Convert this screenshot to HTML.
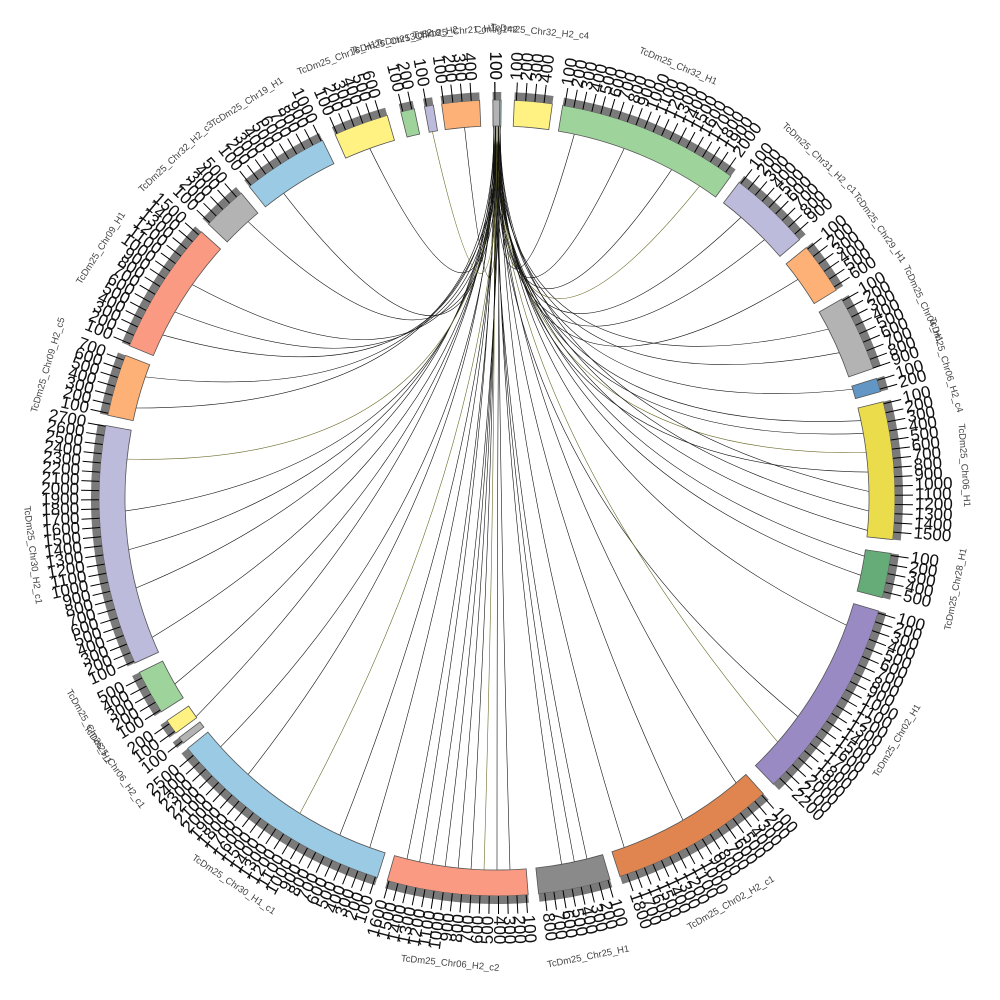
<!DOCTYPE html>
<html><head><meta charset="utf-8"><style>
html,body{margin:0;padding:0;background:#fff;width:1000px;height:1000px;overflow:hidden}
svg{display:block}
text{font-family:"Liberation Sans",sans-serif}
</style></head><body>
<svg id="s" width="1000" height="1000" xmlns="http://www.w3.org/2000/svg"></svg>
<script>
var S=document.getElementById('s'),NS='http://www.w3.org/2000/svg';
var cx=497,cy=498,r1=372,r2=398;
function P(a,r){var t=a*Math.PI/180;return [cx+r*Math.sin(t),cy-r*Math.cos(t)];}
function el(n,at,txt){var e=document.createElementNS(NS,n);for(var k in at)e.setAttribute(k,at[k]);if(txt!=null)e.textContent=txt;S.appendChild(e);return e;}
function arc(a1,a2,ri,ro){var p1=P(a1,ro),p2=P(a2,ro),p3=P(a2,ri),p4=P(a1,ri),l=(a2-a1)>180?1:0;
return 'M'+p1+' A'+ro+','+ro+' 0 '+l+' 1 '+p2+' L'+p3+' A'+ri+','+ri+' 0 '+l+' 0 '+p4+'Z';}
var segs=[
[-0.6,0.6,'#a9c4c4',''],
[2.5,8,'#fff282','TcDm25_Chr32_H2_c4'],
[9.5,36,'#9ed39b','TcDm25_Chr32_H1'],
[37.5,49.5,'#bcbbdc','TcDm25_Chr31_H2_c1'],
[51,58.5,'#fdb176','TcDm25_Chr29_H1'],
[60,71,'#b3b3b3','TcDm25_Chr04_H1'],
[72.5,74.5,'#6296c5','TcDm25_Chr06_H2_c4'],
[76,96,'#ebdc4c','TcDm25_Chr06_H1'],
[98,104.5,'#66ac78','TcDm25_Chr28_H1'],
[106.5,136,'#9a8ac4','TcDm25_Chr02_H1'],
[138,162,'#e0854f','TcDm25_Chr02_H2_c1'],
[163.5,174,'#8a8a8a','TcDm25_Chr25_H1'],
[175.5,196,'#fb9a83','TcDm25_Chr06_H2_c2'],
[197.5,231,'#9bcbe4','TcDm25_Chr30_H1_c1'],
[232,233,'#b3b3b3',''],
[233.8,236,'#fff282','TcDm25_Chr06_H2_c1'],
[237.5,244,'#9ed39b','TcDm25_Chr26_H1'],
[245.5,280.5,'#bcbbdc','TcDm25_Chr30_H2_c1'],
[282,291,'#fdb176','TcDm25_Chr09_H2_c5'],
[292.5,312,'#fb9a83','TcDm25_Chr09_H1'],
[313.5,320,'#b3b3b3','TcDm25_Chr32_H2_c3'],
[321.5,334,'#9bcbe4','TcDm25_Chr19_H1'],
[336,344,'#fff282','TcDm25_Chr16_H1'],
[346,348,'#9ed39b','TcDm25_Chr13_H2'],
[349.5,350.8,'#bcbbdc','TcDm25_Chr18_H2'],
[352,357.5,'#fdb176','TcDm25_Chr21_H1'],
[359.4,360.4,'#b3b3b3','Contig142']
];
var g=el('g',{fill:'none',stroke:'#111','stroke-width':'0.6'});
var targets=[12,20,28,33,41,46,54,63,67,73,78,80,83,86,89,92,95,99,102,110,126,131,140,150,160,166,168,170,178,180,182,184,186,188,190,192,194,200,205,212,222,228,234,240,248,256,262,268,276,284,289,296,300,305,318,325,340,350,355];
targets.forEach(function(t,i){var s=(i%5)*0.25-0.5;var a=P(s,r1),b=P(t,r1);
var c=[cx, cy-90+(i%7)*10];
var p=document.createElementNS(NS,'path');
p.setAttribute('d','M'+a+' Q'+c+' '+b);
if(i%9==3)p.setAttribute('stroke','#6a6a2a');
g.appendChild(p);});
segs.forEach(function(s){
var a1=s[0],a2=s[1];
el('path',{d:arc(a1,a2,r1,r2),fill:s[2],stroke:'#555','stroke-width':'0.8'});
el('path',{d:arc(a1,a2,r2,r2+8),fill:'#7a7a7a',stroke:'none'});
var n=0;
for(var a=a1+0.3;a<=a2;a+=1.33){n++;
var p1=P(a,r2),p2=P(a,r2+18);el('line',{x1:p1[0],y1:p1[1],x2:p2[0],y2:p2[1],stroke:'#000','stroke-width':'1'});
var q=P(a,r2+20),aa=((a%360)+360)%360,rot,anc;
if(aa>0&&aa<180){rot=aa-90;anc='start';}else{rot=aa+90;anc='end';}
el('text',{x:q[0],y:q[1],'font-size':'17','text-anchor':anc,'dominant-baseline':'middle',transform:'rotate('+rot+' '+q[0]+' '+q[1]+')',fill:'#111'},(n*100)+'');
}
if(s[3]){var m=(a1+a2)/2,aa=((m%360)+360)%360,q=P(m,468),rot=(aa>90&&aa<270)?aa-180:aa;
el('text',{x:q[0],y:q[1],'font-size':'9.5','text-anchor':'middle','dominant-baseline':'middle',fill:'#444',transform:'rotate('+rot+' '+q[0]+' '+q[1]+')'},s[3]);}
});
</script>
</svg>
</body></html>
